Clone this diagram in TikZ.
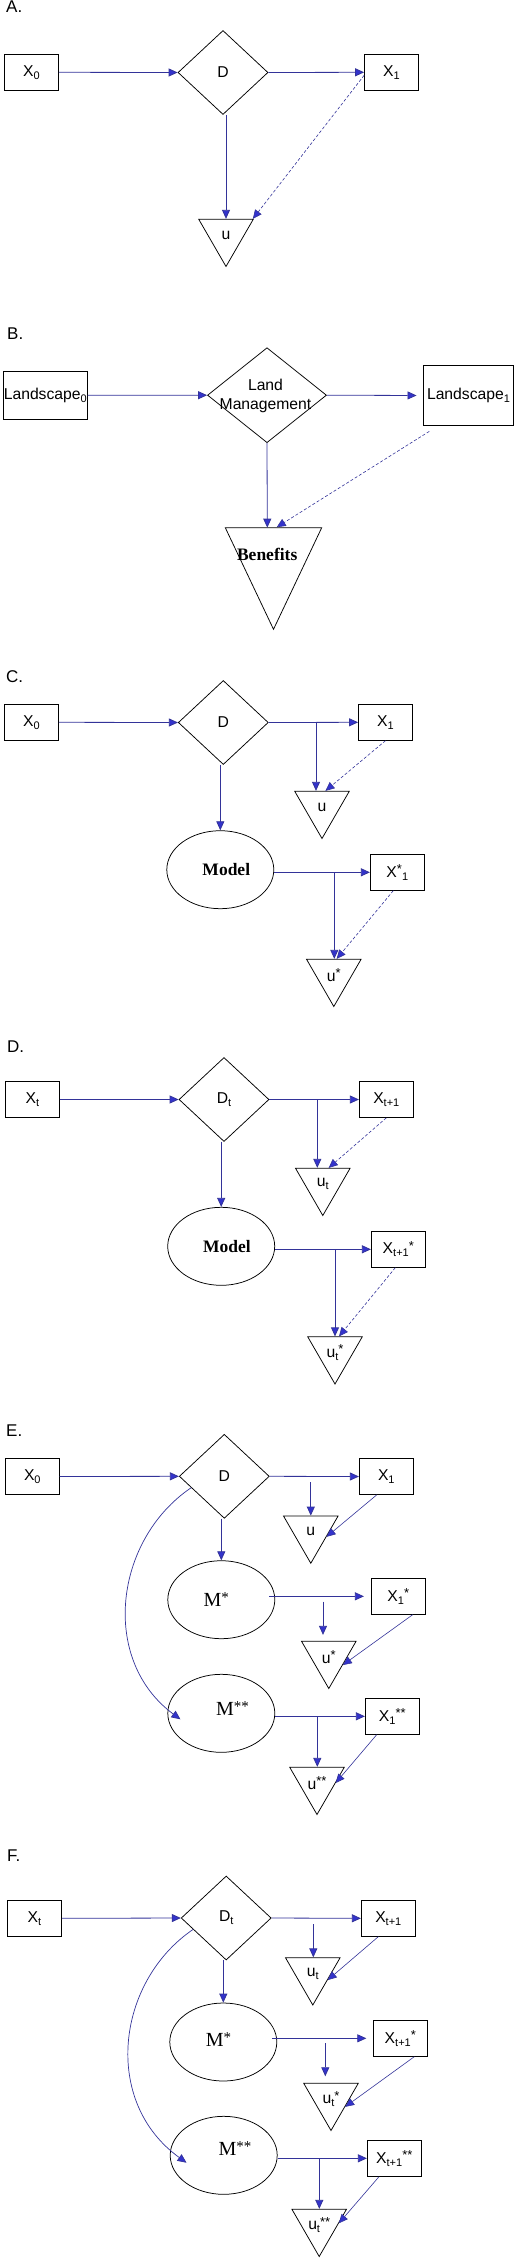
\documentclass[tikz,border=0pt]{standalone}
\usepackage{fontspec}
\setmainfont{Liberation Sans}
\newfontfamily\tnr{Liberation Serif}
\usetikzlibrary{shapes.geometric,arrows.meta,calc}
\definecolor{lineblue}{RGB}{51,51,153}
\definecolor{tipblue}{RGB}{51,51,204}
\newcommand{\mysub}[1]{\raisebox{-3pt}{\fontsize{11}{11}\selectfont #1}}
\newcommand{\mysup}[1]{\raisebox{3.5pt}{\fontsize{13}{13}\selectfont #1}}
\newcommand{\tsup}[1]{\raisebox{4pt}{\fontsize{15}{15}\selectfont #1}}
\tikzset{
  sans/.style={font=\fontsize{15.7}{19}\selectfont},
  lab/.style={font=\fontsize{17}{20}\selectfont, anchor=base west, inner sep=0pt},
  box/.style={draw=black, line width=0.75pt, rectangle, minimum width=54pt, minimum height=36pt, inner sep=0pt, sans},
  dia/.style={draw=black, line width=0.75pt, diamond, minimum width=90pt, minimum height=84pt, inner sep=0pt, sans},
  tri/.style={draw=black, line width=0.75pt, regular polygon, regular polygon sides=3, shape border rotate=180, minimum size=63pt, inner sep=0pt, sans},
  ell/.style={draw=black, line width=0.75pt, ellipse, minimum width=107pt, minimum height=78pt, inner sep=0pt},
  bold serif/.style={font=\tnr\bfseries\fontsize{17.5}{20}\selectfont, anchor=base, inner sep=0pt},
  mtext/.style={font=\tnr\fontsize{20}{22}\selectfont, anchor=base west, inner sep=0pt},
  arr/.style={draw=lineblue, line width=0.8pt, -{Triangle[length=9pt,width=8pt,fill=tipblue]}},
  dsh/.style={arr, line width=0.6pt, dash pattern=on 3pt off 2pt},
  thn/.style={arr, line width=0.6pt},
}
\begin{document}
\begin{tikzpicture}[x=1pt,y=-1pt]
\useasboundingbox (0,0) rectangle (515,2258);

% ---------------- A ----------------
\node[lab] (labA) at (6,12.5) {A.};
\node[box] (A0) at (31.5,72.3) {X\mysub{0}};
\node[dia] (AD) at (223,72.5) {D};
\node[box] (A1) at (391.5,72.3) {X\mysub{1}};
\node[tri] (Au) at (226,235) {u};
\draw[arr] (A0.east) -- (AD.west);
\draw[arr] (AD.east) -- (A1.west);
\draw[arr] (AD.south -| Au.north) -- (Au.north);
\draw[dsh] ([yshift=-3pt]A1.west) -- (Au.31);

% ---------------- B ----------------
\node[lab] (labB) at (7,339.3) {B.};
\node[box, minimum width=84pt, minimum height=48pt] (B0) at (45.3,395.3) {Landscape\mysub{0}};
\node[dia, minimum width=119pt, minimum height=95pt] (BD) at (267,395.2) {};
\node[sans, align=center, inner sep=0pt] (BDt) at (265.5,396) {Land\\Management};
\node[box, minimum width=90pt, minimum height=60pt] (B1) at (468.5,395.5) {Landscape\mysub{1}};
\coordinate (BtL) at (225.3,527.7);
\coordinate (BtR) at (321.7,527.7);
\coordinate (BtA) at (273.5,629.3);
\draw[black, line width=0.75pt] (BtL) -- (BtR) -- (BtA) -- cycle;
\node[bold serif] (Ben) at (267.2,560) {Benefits};
\coordinate (BtT1) at (267.3,527.7);
\coordinate (BtT2) at (276.7,527.2);
\draw[arr] (B0.east) -- (BD.west);
\draw[arr, shorten >=6.6pt] (BD.east) -- (B1.west);
\draw[arr] (BD.south) -- (BtT1);
\draw[dsh] ([xshift=-39.2pt,yshift=-5.5pt]B1.south) -- (BtT2);

% ---------------- C ----------------
\node[lab] (labC) at (6,682.5) {C.};
\node[box] (C0) at (31.5,722.3) {X\mysub{0}};
\node[dia] (CD) at (223.3,722.5) {D};
\node[box] (C1) at (385.5,722.3) {X\mysub{1}};
\node[tri] (Cu) at (322,807) {u};
\node[ell] (CM) at (220.3,869.7) {};
\node[bold serif] (CMt) at (226.3,875) {Model};
\node[box] (C1s) at (397.3,872.3) {X\mysup{*}\mysub{1}};
\node[tri] (Cus) at (333.8,975) {u\mysup{*}};
\draw[arr] (C0.east) -- (CD.west);
\draw[arr] (CD.east) -- (C1.west);
\coordinate (Cb1) at (316,722.3);
\draw[arr] (Cb1) -- (Cb1 |- Cu.north);
\draw[dsh] (C1.south) -- (Cu.78);
\draw[arr] (CD.south -| CM.north) -- (CM.north);
\draw[arr] (CM.east |- C1s.west) -- (C1s.west);
\coordinate (Cb2) at (334.3,872.3);
\draw[arr] (Cb2) -- (Cb2 |- Cus.north);
\draw[dsh] ([xshift=-4pt]C1s.south) -- (Cus.80);

% ---------------- D ----------------
\node[lab] (labD) at (7,1052.7) {D.};
\node[box] (D0) at (32.3,1099.5) {X\mysub{t}};
\node[dia] (DD) at (224,1099.5) {D\mysub{t}};
\node[box] (D1) at (386.3,1099.5) {X\mysub{t+1}};
\node[tri] (Du) at (322.8,1184) {u\mysub{t}};
\node[ell] (DM) at (221.2,1246.3) {};
\node[bold serif] (DMt) at (227,1252.3) {Model};
\node[box] (D1s) at (398.3,1249.3) {X\mysub{t+1}\mysup{*}};
\node[tri] (Dus) at (335,1352.5) {u\mysub{t}\mysup{*}};
\draw[arr] (D0.east) -- (DD.west);
\draw[arr] (DD.east) -- (D1.west);
\coordinate (Db1) at (317.3,1099.5);
\draw[arr] (Db1) -- (Db1 |- Du.north);
\draw[dsh] (D1.south) -- (Du.70);
\draw[arr] (DD.south -| DM.north) -- (DM.north);
\draw[arr] (DM.east |- D1s.west) -- (D1s.west);
\coordinate (Db2) at (335,1249.3);
\draw[arr] (Db2) -- (Db2 |- Dus.north);
\draw[dsh] ([xshift=-3pt]D1s.south) -- (Dus.76);

% ---------------- E ----------------
\node[lab] (labE) at (6,1436) {E.};
\node[box] (E0) at (32.3,1476.5) {X\mysub{0}};
\node[dia] (ED) at (224.3,1476.3) {D};
\node[box] (E1) at (386.3,1476.5) {X\mysub{1}};
\node[tri] (Eu) at (310.8,1531.75) {u};
\node[ell] (EM1) at (221.3,1599.7) {};
\node[mtext] (EM1t) at (203.3,1606) {M\tsup{*}};
\node[box] (E1s) at (398.3,1596.3) {X\mysub{1}\mysup{*}};
\node[tri] (Eus) at (328.8,1657) {u\mysup{*}};
\node[ell] (EM2) at (221.3,1713.3) {};
\node[mtext] (EM2t) at (216,1715) {M\tsup{**}};
\node[box] (E1ss) at (392.3,1716.3) {X\mysub{1}\mysup{**}};
\node[tri] (Euss) at (317,1783) {u\mysup{**}};
\draw[arr] (E0.east) -- (ED.west);
\draw[arr] (ED.east) -- (E1.west);
\coordinate (Eb1) at (310.8,1482.3);
\draw[arr] (Eb1) -- (Eb1 |- Eu.north);
\draw[thn] ([xshift=-9.6pt]E1.south) -- (Eu.-18);
\draw[arr] (ED.south -| EM1.north) -- (EM1.north);
\draw[arr, shorten >=7pt] ([xshift=-5.7pt]EM1.east |- E1s.west) -- (E1s.west);
\coordinate (Eb2) at (323,1601.7);
\draw[arr, shorten >=6pt] (Eb2) -- (Eb2 |- Eus.north);
\draw[thn] ([xshift=14.4pt]E1s.south) -- (Eus.-30);
\draw[arr] (EM2.east |- E1ss.west) -- (E1ss.west);
\coordinate (Eb3) at (317.3,1716.3);
\draw[arr] (Eb3) -- (Eb3 |- Euss.north);
\draw[thn] ([xshift=-15.6pt]E1ss.south) -- (Euss.0);
\draw[arr, line width=0.7pt] (ED.199) .. controls (114,1540) and (100,1660) .. ([xshift=13pt,yshift=-6pt]EM2.west);

% ---------------- F ----------------
\node[lab] (labF) at (7,1861) {F.};
\node[box] (F0) at (34.5,1918.3) {X\mysub{t}};
\node[dia] (FD) at (226.2,1918) {D\mysub{t}};
\node[box] (F1) at (388.3,1918.3) {X\mysub{t+1}};
\node[tri] (Fu) at (312.8,1973.5) {u\mysub{t}};
\node[ell] (FM1) at (223.3,2042) {};
\node[mtext] (FM1t) at (205.7,2046.7) {M\tsup{*}};
\node[box] (F1s) at (400.3,2038.3) {X\mysub{t+1}\mysup{*}};
\node[tri] (Fus) at (331,2099) {u\mysub{t}\mysup{*}};
\node[ell] (FM2) at (223.7,2155.3) {};
\node[mtext] (FM2t) at (218.3,2155) {M\tsup{**}};
\node[box] (F1ss) at (394.3,2158.3) {X\mysub{t+1}\mysup{**}};
\node[tri] (Fuss) at (319.2,2225) {u\mysub{t}\mysup{**}};
\draw[arr] (F0.east) -- (FD.west);
\draw[arr] (FD.east) -- (F1.west);
\coordinate (Fb1) at (313.3,1924);
\draw[arr] (Fb1) -- (Fb1 |- Fu.north);
\draw[thn] ([xshift=-10pt]F1.south) -- (Fu.-24);
\draw[arr] (FD.south -| FM1.north) -- (FM1.north);
\draw[arr, shorten >=6.6pt] ([xshift=-5pt]FM1.east |- F1s.west) -- (F1s.west);
\coordinate (Fb2) at (325.3,2043.3);
\draw[arr, shorten >=6.6pt] (Fb2) -- (Fb2 |- Fus.north);
\draw[thn] ([xshift=14pt]F1s.south) -- (Fus.-29);
\draw[arr] (FM2.east |- F1ss.west) -- (F1ss.west);
\coordinate (Fb3) at (319.3,2158.3);
\draw[arr] (Fb3) -- (Fb3 |- Fuss.north);
\draw[thn] ([xshift=-15.3pt]F1ss.south) -- (Fuss.5);
\draw[arr, line width=0.7pt] (FD.199) .. controls (116,1982) and (102,2102) .. ([xshift=16.7pt,yshift=-7.4pt]FM2.west);
\end{tikzpicture}
\end{document}
